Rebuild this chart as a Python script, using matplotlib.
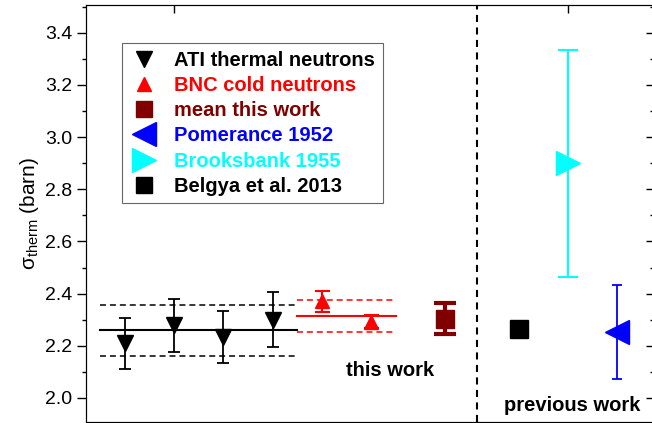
import matplotlib.pyplot as plt
import numpy as np
from matplotlib.lines import Line2D
from matplotlib.ticker import AutoMinorLocator, FormatStrFormatter

plt.rcParams['font.family'] = ['Liberation Sans', 'DejaVu Sans']
plt.rcParams['mathtext.fontset'] = 'custom'
plt.rcParams['mathtext.rm'] = 'Liberation Sans'
plt.rcParams['mathtext.it'] = 'Liberation Sans:italic'
plt.rcParams['mathtext.bf'] = 'Liberation Sans:bold'

# ATI thermal neutron runs and their weighted mean
ati_x = [1, 2, 3, 4]
ati_y = [2.21, 2.278, 2.235, 2.30]
ati_err = [0.098, 0.103, 0.10, 0.105]
ati_mean = 2.259
ati_mean_err = 0.0965

# BNC cold neutron runs and their mean
bnc_x = [5, 6]
bnc_y = [2.37, 2.293]
bnc_err = [0.04, 0.025]
bnc_mean = 2.314
bnc_mean_err = 0.06

# mean of this work
mean_x = [7.5]
mean_y = [2.304]
mean_err = [0.06]

# previous measurements
belgya_x = [9]
belgya_y = [2.264]
belgya_err = [0.025]

brooksbank_x = [10]
brooksbank_y = [2.90]
brooksbank_err = [0.435]

pomerance_x = [11]
pomerance_y = [2.253]
pomerance_err = [0.18]

yticks = [2.0, 2.2, 2.4, 2.6, 2.8, 3.0, 3.2, 3.4]

fig = plt.figure(figsize=(6.52, 4.23), dpi=100)
ax = fig.add_axes([0.1319, 0.0024, 0.8704, 0.9858])

# mean lines with +/- 1 sigma bands
dash = (0, (3.9, 2.6))
ax.plot([0.5, 4.5], [ati_mean, ati_mean], color='black', lw=1.5)
ax.plot([0.5, 4.5], [ati_mean + ati_mean_err] * 2, color='black', lw=1.1, ls=dash)
ax.plot([0.5, 4.5], [ati_mean - ati_mean_err] * 2, color='black', lw=1.1, ls=dash)
ax.plot([4.5, 6.5], [bnc_mean, bnc_mean], color='red', lw=1.5)
ax.plot([4.5, 6.5], [bnc_mean + bnc_mean_err] * 2, color='red', lw=1.1, ls=dash)
ax.plot([4.5, 6.5], [bnc_mean - bnc_mean_err] * 2, color='red', lw=1.1, ls=dash)

# separator between this work and previous work
ax.axvline(8.16, color='black', lw=1.5, ls=(0, (3.4, 2.6)))

ax.errorbar(ati_x, ati_y, yerr=ati_err, fmt='v', color='black', ms=11,
            capsize=4.3, elinewidth=1.3, capthick=1.3)
ax.errorbar(bnc_x, bnc_y, yerr=bnc_err, fmt='^', color='red', ms=10.5,
            capsize=5.4, elinewidth=1.5, capthick=1.5)
ax.errorbar(mean_x, mean_y, yerr=mean_err, fmt='s', color='#800000', ms=13,
            capsize=8, elinewidth=3, capthick=3)
ax.errorbar(belgya_x, belgya_y, yerr=belgya_err, fmt='s', color='black', ms=13,
            capsize=6, elinewidth=1.2, capthick=1.2)
ax.errorbar(brooksbank_x, brooksbank_y, yerr=brooksbank_err, fmt='>', color='cyan',
            ms=17, capsize=7.2, elinewidth=1.5, capthick=1.5)
ax.errorbar(pomerance_x, pomerance_y, yerr=pomerance_err, fmt='<', color='blue',
            ms=17, capsize=3.6, elinewidth=1.3, capthick=1.3)

ax.text(6.39, 2.107, 'this work', ha='center', va='center', fontsize=14.5, fontweight='bold')
ax.text(10.08, 1.973, 'previous work', ha='center', va='center', fontsize=14.5, fontweight='bold')

ax.set_xlim(0.207, 11.74)
ax.set_ylim(1.908, 3.506)
ax.set_yticks(yticks)
ax.yaxis.set_major_formatter(FormatStrFormatter('%.1f'))
ax.yaxis.set_minor_locator(AutoMinorLocator(2))
ax.tick_params(axis='y', which='major', direction='out', length=6.3, width=1, labelsize=14)
ax.tick_params(axis='y', which='minor', direction='out', length=3, width=1)
ax.set_xticks([2, 10])
ax.tick_params(axis='x', which='both', bottom=False, top=True, direction='in',
               labelbottom=False, length=6, width=1)
ax.set_ylabel('σ$_{\\mathrm{therm}}$ (barn)', fontsize=15, labelpad=3)

# right axis: inward ticks, no labels
ax2 = ax.twinx()
ax2.set_ylim(ax.get_ylim())
ax2.set_yticks(yticks)
ax2.yaxis.set_minor_locator(AutoMinorLocator(2))
ax2.tick_params(axis='y', which='major', direction='in', length=5, width=1, labelright=False)
ax2.tick_params(axis='y', which='minor', direction='in', length=2.5, width=1)

handles = [
    Line2D([], [], marker='v', ls='none', color='black', ms=11),
    Line2D([], [], marker='^', ls='none', color='red', ms=10.5),
    Line2D([], [], marker='s', ls='none', color='#800000', ms=11),
    Line2D([], [], marker='<', ls='none', color='blue', ms=17),
    Line2D([], [], marker='>', ls='none', color='cyan', ms=17),
    Line2D([], [], marker='s', ls='none', color='black', ms=12),
]
labels = ['ATI thermal neutrons', 'BNC cold neutrons', 'mean this work',
          'Pomerance 1952', 'Brooksbank 1955', 'Belgya et al. 2013']
label_colors = ['black', 'red', '#800000', 'blue', 'cyan', 'black']

leg = ax.legend(handles, labels, loc='upper left', bbox_to_anchor=(0.0636, 0.909),
                borderaxespad=0, fancybox=False, edgecolor='#666666', framealpha=1,
                prop={'weight': 'bold', 'size': 14.5}, handlelength=1.4,
                handletextpad=0.8, labelspacing=0.31, borderpad=0.38)
leg.get_frame().set_linewidth(0.8)
for text, c in zip(leg.get_texts(), label_colors):
    text.set_color(c)
leg.remove()
ax2.add_artist(leg)

plt.savefig('out.png', dpi=100)
